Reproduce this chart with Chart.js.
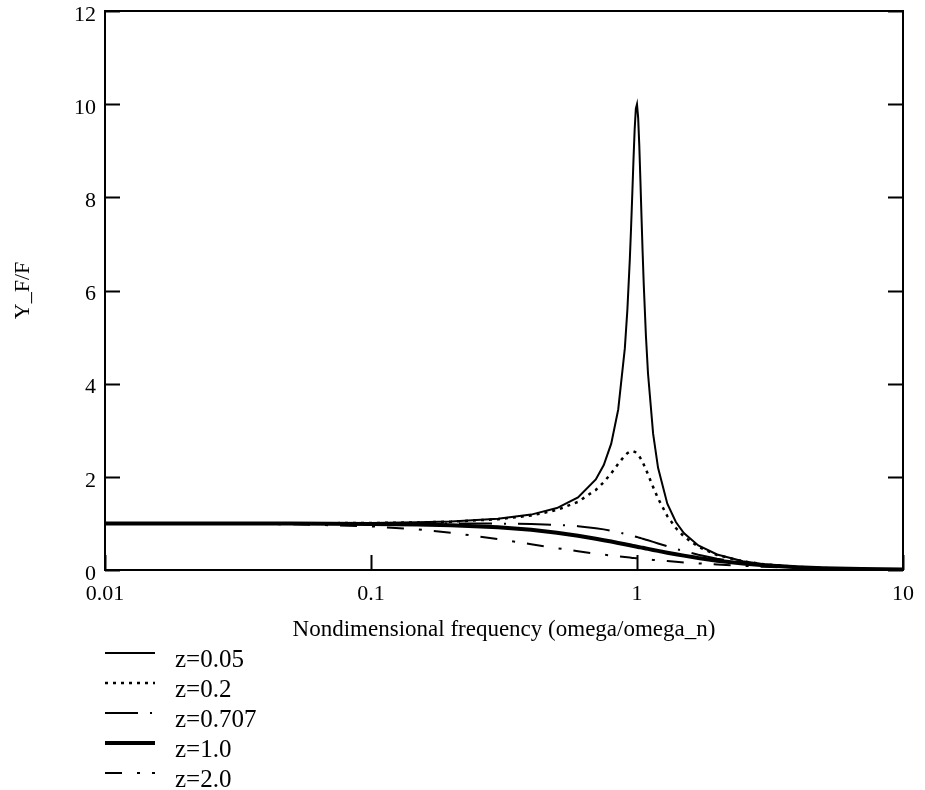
<!DOCTYPE html>
<html>
<head>
<meta charset="utf-8">
<title>Frequency response</title>
<script src="https://cdn.jsdelivr.net/npm/chart.js@4.4.1/dist/chart.umd.min.js"></script>
<style>
  html, body { margin: 0; padding: 0; background: #fff; }
  #wrap { width: 925px; height: 790px; }
</style>
</head>
<body>
<div id="wrap"><canvas id="chart" width="925" height="790"></canvas></div>
<script>
// values (Y_F/F vs omega/omega_n)
const freq = [0.01, 0.02, 0.05, 0.1, 0.15, 0.2, 0.3, 0.4, 0.5, 0.6, 0.7, 0.75, 0.8, 0.85, 0.9,
  0.92, 0.94, 0.95, 0.96, 0.97, 0.98, 0.99, 1.0, 1.01, 1.02, 1.03, 1.04, 1.05, 1.06, 1.08,
  1.1, 1.15, 1.2, 1.3, 1.4, 1.5, 1.7, 2.0, 2.5, 3, 4, 5, 7, 10];

const amp005 = [1.0, 1.0, 1.0025, 1.010, 1.023, 1.041, 1.098, 1.189, 1.330, 1.556, 1.943, 2.253, 2.712, 3.446, 4.757,
  5.585, 6.684, 7.346, 8.068, 8.804, 9.461, 9.903, 10.0, 9.711, 9.115, 8.357, 7.565, 6.815, 6.141, 5.041,
  4.218, 2.921, 2.193, 1.424, 1.031, 0.794, 0.527, 0.333, 0.190, 0.125, 0.067, 0.042, 0.021, 0.010];

const amp02 = [1.0, 1.0, 1.002, 1.009, 1.021, 1.038, 1.090, 1.170, 1.288, 1.463, 1.719, 1.885, 2.076, 2.279, 2.457,
  2.508, 2.541, 2.549, 2.552, 2.548, 2.538, 2.522, 2.5, 2.472, 2.439, 2.401, 2.359, 2.313, 2.264, 2.160,
  2.051, 1.780, 1.536, 1.157, 0.900, 0.721, 0.498, 0.322, 0.187, 0.124, 0.066, 0.042, 0.021, 0.010];

const amp0707 = [1.0, 1.0, 1.0, 1.0, 0.9997, 0.9992, 0.996, 0.987, 0.970, 0.941, 0.898, 0.872, 0.842, 0.811, 0.777,
  0.763, 0.749, 0.742, 0.735, 0.728, 0.721, 0.714, 0.707, 0.700, 0.693, 0.686, 0.679, 0.672, 0.665, 0.651,
  0.637, 0.603, 0.570, 0.509, 0.455, 0.406, 0.327, 0.243, 0.158, 0.110, 0.062, 0.040, 0.020, 0.010];

const amp10 = [1.0, 0.9996, 0.9975, 0.990, 0.978, 0.962, 0.917, 0.862, 0.800, 0.735, 0.671, 0.640, 0.610, 0.581, 0.553,
  0.542, 0.531, 0.526, 0.520, 0.515, 0.510, 0.505, 0.500, 0.495, 0.490, 0.485, 0.480, 0.476, 0.471, 0.462,
  0.453, 0.431, 0.410, 0.372, 0.338, 0.308, 0.257, 0.200, 0.138, 0.100, 0.059, 0.038, 0.020, 0.010];

const amp20 = [0.999, 0.997, 0.983, 0.937, 0.872, 0.800, 0.664, 0.553, 0.468, 0.403, 0.351, 0.330, 0.311, 0.293, 0.277,
  0.272, 0.266, 0.263, 0.260, 0.258, 0.255, 0.253, 0.250, 0.248, 0.245, 0.243, 0.240, 0.238, 0.236, 0.231,
  0.227, 0.217, 0.208, 0.191, 0.176, 0.163, 0.142, 0.117, 0.089, 0.069, 0.046, 0.032, 0.018, 0.009];

const seriesNames = ["z=0.05", "z=0.2", "z=0.707", "z=1.0", "z=2.0"];
const xTicks = [0.01, 0.1, 1, 10];
const yTicks = [0, 2, 4, 6, 8, 10, 12];

const FONT = "'Liberation Serif', 'Times New Roman', serif";

function toPoints(values) {
  return freq.map((f, i) => ({ x: f, y: values[i] }));
}

function makeSet(label, values, width, dash) {
  return {
    label,
    data: toPoints(values),
    borderColor: "#000",
    borderWidth: width,
    borderDash: dash,
    pointRadius: 0,
    tension: 0,
    fill: false
  };
}

// box around the plot with short inward ticks, like the original
const framePlugin = {
  id: "frame",
  afterDraw(chart) {
    const { ctx, chartArea: a, scales } = chart;
    const tl = 15;
    ctx.save();
    ctx.strokeStyle = "#000";
    ctx.lineWidth = 2;
    ctx.strokeRect(a.left, a.top, a.right - a.left, a.bottom - a.top);
    ctx.beginPath();
    yTicks.forEach(v => {
      const y = Math.round(scales.y.getPixelForValue(v)) + 0.5;
      ctx.moveTo(a.left, y); ctx.lineTo(a.left + tl, y);
      ctx.moveTo(a.right, y); ctx.lineTo(a.right - tl, y);
    });
    xTicks.forEach(v => {
      const x = Math.round(scales.x.getPixelForValue(v)) + 0.5;
      ctx.moveTo(x, a.bottom); ctx.lineTo(x, a.bottom - tl);
    });
    ctx.stroke();
    ctx.restore();
  }
};

// legend stacked under the axis title
const legendPlugin = {
  id: "sideLegend",
  afterDraw(chart) {
    const { ctx } = chart;
    const x0 = 105, x1 = 155, tx = 175, top = 653, step = 30;
    ctx.save();
    ctx.fillStyle = "#000";
    ctx.font = "25px " + FONT;
    ctx.textBaseline = "alphabetic";
    chart.data.datasets.forEach((ds, i) => {
      const y = top + i * step;
      ctx.beginPath();
      ctx.strokeStyle = "#000";
      ctx.lineWidth = ds.borderWidth;
      ctx.setLineDash(ds.borderDash || []);
      ctx.moveTo(x0, y);
      ctx.lineTo(x1, y);
      ctx.stroke();
      ctx.setLineDash([]);
      ctx.fillText(ds.label, tx, y + 14);
    });
    ctx.restore();
  }
};

new Chart(document.getElementById("chart"), {
  type: "line",
  data: {
    datasets: [
      makeSet(seriesNames[0], amp005, 2, []),
      makeSet(seriesNames[1], amp02, 2.5, [3, 5]),
      makeSet(seriesNames[2], amp0707, 2, [33, 12, 2, 12]),
      makeSet(seriesNames[3], amp10, 4, []),
      makeSet(seriesNames[4], amp20, 2, [17, 15, 3, 12])
    ]
  },
  options: {
    responsive: false,
    animation: false,
    layout: { padding: { left: 0, top: 11, right: 19, bottom: 142 } },
    plugins: {
      legend: { display: false },
      tooltip: { enabled: false }
    },
    scales: {
      x: {
        type: "logarithmic",
        min: 0.01,
        max: 10,
        afterBuildTicks: (scale) => { scale.ticks = xTicks.map(v => ({ value: v })); },
        afterFit: (scale) => { scale.height = 78; },
        grid: { display: false, drawTicks: false },
        border: { display: false },
        ticks: {
          color: "#000",
          font: { family: FONT, size: 22 },
          padding: 11,
          maxRotation: 0,
          autoSkip: false,
          callback: (v) => String(v)
        },
        title: {
          display: true,
          text: "Nondimensional frequency (omega/omega_n)",
          color: "#000",
          font: { family: FONT, size: 23 },
          padding: { top: 0, bottom: 4 }
        }
      },
      y: {
        min: 0,
        max: 12,
        afterBuildTicks: (scale) => { scale.ticks = yTicks.map(v => ({ value: v })); },
        afterFit: (scale) => {
          scale.width = 105;
          // let the "12" label hang above the frame as in the original
          scale.paddingTop = 0;
          scale.paddingBottom = 0;
        },
        grid: { display: false, drawTicks: false },
        border: { display: false },
        ticks: {
          color: "#000",
          font: { family: FONT, size: 22 },
          padding: 9,
          labelOffset: 4
        },
        title: {
          display: true,
          text: "Y_F/F",
          color: "#000",
          font: { family: FONT, size: 22 },
          padding: { top: 10, bottom: 0 }
        }
      }
    }
  },
  plugins: [framePlugin, legendPlugin]
});
</script>
</body>
</html>
